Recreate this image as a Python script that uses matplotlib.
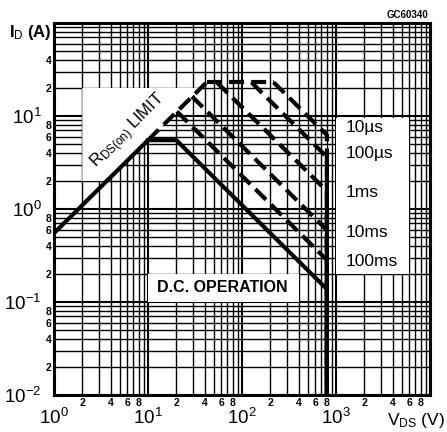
import matplotlib
matplotlib.use("Agg")
import matplotlib.pyplot as plt
from matplotlib.ticker import LogLocator, FixedLocator, FuncFormatter
from matplotlib.patches import Polygon, Rectangle

plt.rcParams['font.family'] = ['Liberation Sans', 'DejaVu Sans']
plt.rcParams['mathtext.fontset'] = 'custom'
plt.rcParams['mathtext.rm'] = 'Liberation Sans'
plt.rcParams['mathtext.it'] = 'Liberation Sans:italic'
plt.rcParams['mathtext.bf'] = 'Liberation Sans:bold'

## curve data (V_DS in volts, I_D in amps) ##
rds_v = [1, 10]
rds_i = [0.55, 5.5]
rds_ext_v = [10, 42]
rds_ext_i = [5.5, 23]
top_v = [42, 217]
top_i = [23, 23]
dc_v = [10, 20, 800, 800]
dc_i = [5.5, 5.5, 0.1375, 0.01]

pulse_names = ["10\u00b5s", "100\u00b5s", "1ms", "10ms", "100ms"]
pulse_v = [[217, 800, 800], [126, 800, 800], [54, 800, 800],
           [29.4, 800, 800], [20.3, 800, 800]]
pulse_i = [[23, 6.25, 0.01], [23, 3.63, 0.01], [23, 1.56, 0.01],
           [16.2, 0.594, 0.01], [11.2, 0.283, 0.01]]
label_i = [7.6, 4.0, 1.52, 0.565, 0.27]

x_major = [1, 10, 100, 1000, 10000]
x_major_lbl = [r"$10^0$", r"$10^1$", r"$10^2$", r"$10^3$", ""]
y_major = [0.01, 0.1, 1, 10, 100]
y_major_lbl = [r"$10^{-2}$", r"$10^{-1}$", r"$10^0$", r"$10^1$", ""]

fig = plt.figure(figsize=(4.47, 4.32), dpi=100)
ax = fig.add_axes([54/447, 1-395/432, 376/447, 372/432])
ax.set_xscale("log")
ax.set_yscale("log")
ax.set_xlim(1, 10000)
ax.set_ylim(0.01, 100)

# grid
ax.xaxis.set_major_locator(FixedLocator(x_major))
ax.yaxis.set_major_locator(FixedLocator(y_major))
ax.xaxis.set_minor_locator(LogLocator(base=10, subs=range(2, 10), numticks=20))
ax.yaxis.set_minor_locator(LogLocator(base=10, subs=range(2, 10), numticks=20))
ax.set_xticklabels(x_major_lbl, fontsize=13.5)
ax.set_yticklabels(y_major_lbl, fontsize=13.5)

def xminor(v, pos):
    m = round(v / 10 ** int(f"{v:e}".split("e")[1]))
    return str(m) if m in (2, 4, 6, 8) else ""

def yminor(v, pos):
    m = round(v / 10 ** int(f"{v:e}".split("e")[1]))
    if v > 50:
        return ""
    return str(m) if m in (2, 4, 6, 8) else ""

ax.xaxis.set_minor_formatter(FuncFormatter(xminor))
ax.yaxis.set_minor_formatter(FuncFormatter(yminor))
ax.tick_params(which="both", length=0)
ax.tick_params(which="major", axis="x", pad=9)
ax.tick_params(which="major", axis="y", pad=9)
ax.tick_params(which="minor", labelsize=7.5, pad=2)
for t in ax.xaxis.get_minorticklabels() + ax.yaxis.get_minorticklabels():
    t.set_fontweight("bold")
ax.grid(True, which="major", color="k", lw=1.5)
ax.grid(True, which="minor", color="k", lw=1.0)
ax.set_axisbelow(True)
for s in ax.spines.values():
    s.set_linewidth(2.2)

# white label areas
ax.add_patch(Polygon([(2, 2), (2, 20), (36.4, 20), (3.64, 2)],
                     closed=True, fc="white", ec="none", zorder=1.5))
ax.add_patch(Rectangle((1000, 0.2), 5000, 9.3, fc="white", ec="none", zorder=1.5))
ax.add_patch(Rectangle((10, 0.1), 390, 0.1, fc="white", ec="none", zorder=1.5))

dash = (0, (3.6, 1.7))
ax.plot(rds_v, rds_i, color="k", lw=3, solid_capstyle="butt", zorder=3)
ax.plot(dc_v, dc_i, color="k", lw=3, zorder=3)
ax.plot(rds_ext_v, rds_ext_i, color="k", lw=3, ls=dash, zorder=3)
ax.plot(top_v, top_i, color="k", lw=3, ls=dash, zorder=3)
for v, i in zip(pulse_v, pulse_i):
    ax.plot(v, i, color="k", lw=3, ls=dash, zorder=3)

for name, li in zip(pulse_names, label_i):
    ax.text(1270, li, name, fontsize=12.5, ha="left", va="center", zorder=4)

ax.text(62, 0.142, "D.C. OPERATION", fontsize=11.5, weight="bold",
        ha="center", va="center", zorder=4)
ax.text(6.3, 6.9, r"R$_{\mathrm{DS(on)}}$ LIMIT", fontsize=12, rotation=45,
        ha="center", va="center", rotation_mode="anchor", zorder=4)

fig.text(30/447, 1-32/432, r"I$_{\mathrm{D}}$ (A)", fontsize=12, weight="bold",
         ha="center", va="center")
fig.text(445/447, 1-420/432, r"V$_{\mathrm{DS}}$ (V)", fontsize=12.5, ha="right", va="center")
fig.text(428/447, 1-15/432, "GC60340", fontsize=7, weight="bold", ha="right", va="center")

fig.savefig("out.png", dpi=100)
